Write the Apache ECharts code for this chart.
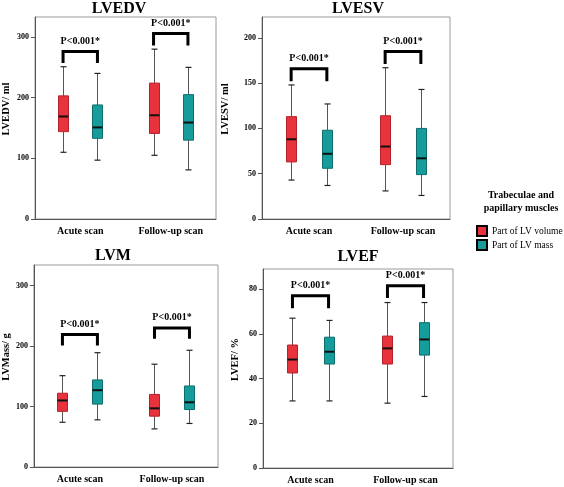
<!DOCTYPE html>
<html>
<head>
<meta charset="utf-8">
<script src="https://cdn.jsdelivr.net/npm/echarts@6/dist/echarts.min.js"></script>
<style>
html,body{margin:0;padding:0;background:#fff;}
#chart{width:564px;height:487px;}
</style>
</head>
<body>
<div id="chart"></div>
<script>
// ---- data (box stats: [min, Q1, median, Q3, max]) ----
const categories = ['Acute scan', 'Follow-up scan'];
const seriesNames = ['Part of LV volume', 'Part of LV mass'];
const panelTitles = ['LVEDV', 'LVESV', 'LVM', 'LVEF'];
const axisNames = ['LVEDV/ ml', 'LVESV/ ml', 'LVMass/ g', 'LVEF/ %'];
const legendTitle = ['Trabeculae and', 'papillary muscles'];
const pText = 'P<0.001*';

const lvedvVolume = [[110, 144, 169, 203, 251], [105, 141, 171, 224, 280]];
const lvedvMass   = [[97, 133, 151, 188, 240], [81, 130, 159, 205, 250]];
const lvedvBrackets = [[276, 257], [306, 286]];   // [top, leg end]
const lvedvTicks = [0, 100, 200, 300];

const lvesvVolume = [[43, 63, 88, 113, 148], [31, 60, 80, 114, 167]];
const lvesvMass   = [[37, 56, 72, 98, 127], [26, 49, 67, 100, 143]];
const lvesvBrackets = [[166, 152], [185, 171]];
const lvesvTicks = [0, 50, 100, 150, 200];

const lvmVolume = [[74, 92, 110, 122, 151], [63, 84, 97, 120, 170]];
const lvmMass   = [[78, 104, 127, 144, 189], [72, 95, 107, 134, 193]];
const lvmBrackets = [[219, 201], [230, 212]];
const lvmTicks = [0, 100, 200, 300];

const lvefVolume = [[30, 42.5, 48.5, 55, 67], [29, 46.5, 53.5, 59, 74]];
const lvefMass   = [[30, 46.5, 52, 58.5, 66], [32, 50.5, 57.5, 65, 74]];
const lvefBrackets = [[77, 71.5], [81.5, 76]];
const lvefTicks = [0, 20, 40, 60, 80];

const yMax = [333, 223, 334, 89];

// ---- layout / style ----
const FONT = 'Liberation Serif';
const RED = '#e8323c', RED_B = '#b3232b';
const TEAL = '#169c9a', TEAL_B = '#0e6e6d';
const grids = [
  {left: 28, top: 17, width: 188, height: 202},
  {left: 262, top: 17, width: 188, height: 202},
  {left: 30, top: 265, width: 188, height: 202},
  {left: 263, top: 269, width: 190, height: 199}
];
const nameGaps = [23, 31, 21, 22];
const OFF = 0.19; // fraction of band width between category center and box center

const panels = [
  {vol: lvedvVolume, mass: lvedvMass, br: lvedvBrackets, ticks: lvedvTicks},
  {vol: lvesvVolume, mass: lvesvMass, br: lvesvBrackets, ticks: lvesvTicks},
  {vol: lvmVolume, mass: lvmMass, br: lvmBrackets, ticks: lvmTicks},
  {vol: lvefVolume, mass: lvefMass, br: lvefBrackets, ticks: lvefTicks}
];

function boxRender(sign, fill, border) {
  return function (params, api) {
    const c = api.value(0);
    const band = api.size([1, 0])[0];
    const pMin = api.coord([c, api.value(1)]);
    const pQ1 = api.coord([c, api.value(2)]);
    const pMed = api.coord([c, api.value(3)]);
    const pQ3 = api.coord([c, api.value(4)]);
    const pMax = api.coord([c, api.value(5)]);
    const cx = Math.round(pMin[0] + sign * OFF * band) + 0.5;
    const hw = 5, cap = 3;
    const ws = {stroke: '#555', lineWidth: 1};
    const cs = {stroke: '#222', lineWidth: 1.2};
    return {type: 'group', children: [
      {type: 'line', shape: {x1: cx, y1: pMax[1], x2: cx, y2: pQ3[1]}, style: ws},
      {type: 'line', shape: {x1: cx, y1: pQ1[1], x2: cx, y2: pMin[1]}, style: ws},
      {type: 'line', shape: {x1: cx - cap, y1: pMax[1], x2: cx + cap, y2: pMax[1]}, style: cs},
      {type: 'line', shape: {x1: cx - cap, y1: pMin[1], x2: cx + cap, y2: pMin[1]}, style: cs},
      {type: 'rect', shape: {x: cx - hw, y: pQ3[1], width: hw * 2, height: pQ1[1] - pQ3[1]},
        style: {fill: fill, stroke: border, lineWidth: 1}},
      {type: 'line', shape: {x1: cx - hw, y1: pMed[1], x2: cx + hw, y2: pMed[1]},
        style: {stroke: '#111', lineWidth: 2}}
    ]};
  };
}

function bracketRender(params, api) {
  const c = api.value(0);
  const band = api.size([1, 0])[0];
  const pTop = api.coord([c, api.value(1)]);
  const pLeg = api.coord([c, api.value(2)]);
  const x1 = pTop[0] - OFF * band, x2 = pTop[0] + OFF * band;
  return {type: 'group', children: [
    {type: 'polyline', shape: {points: [[x1, pLeg[1]], [x1, pTop[1]], [x2, pTop[1]], [x2, pLeg[1]]]},
      style: {stroke: '#000', lineWidth: 3, fill: null, lineJoin: 'miter'}},
    {type: 'text', x: pTop[0], y: pTop[1] - 5,
      style: {text: pText, textAlign: 'center', textVerticalAlign: 'bottom',
        font: 'bold 10px "' + FONT + '"', fill: '#000'}}
  ]};
}

const xAxes = [], yAxes = [], series = [], graphics = [];
panels.forEach(function (p, i) {
  xAxes.push({
    type: 'category', gridIndex: i, data: categories, boundaryGap: true,
    axisLine: {lineStyle: {color: '#555', width: 1}},
    axisTick: {alignWithLabel: true, length: 4, lineStyle: {color: '#555'}},
    axisLabel: {color: '#000', fontFamily: FONT, fontWeight: 'bold', fontSize: 10, margin: 7},
    splitLine: {show: false}
  });
  yAxes.push({
    type: 'value', gridIndex: i, min: 0, max: yMax[i],
    name: axisNames[i], nameLocation: 'middle', nameGap: nameGaps[i],
    nameTextStyle: {color: '#000', fontFamily: FONT, fontWeight: 'bold', fontSize: 10.5, padding: [0, 0, 0, 18]},
    axisLine: {show: true, lineStyle: {color: '#555', width: 1}},
    axisTick: {show: true, length: 4, lineStyle: {color: '#555'}, customValues: p.ticks},
    axisLabel: {color: '#000', fontFamily: FONT, fontWeight: 'bold', fontSize: 8, margin: 6, customValues: p.ticks},
    splitLine: {show: false}
  });
  series.push({
    type: 'custom', name: seriesNames[0], xAxisIndex: i, yAxisIndex: i,
    itemStyle: {color: RED, borderColor: '#000', borderWidth: 1},
    renderItem: boxRender(-1, RED, RED_B),
    encode: {x: 0, y: [1, 2, 3, 4, 5]},
    data: p.vol.map(function (s, k) { return [k].concat(s); }),
    silent: true
  });
  series.push({
    type: 'custom', name: seriesNames[1], xAxisIndex: i, yAxisIndex: i,
    itemStyle: {color: TEAL, borderColor: '#000', borderWidth: 1},
    renderItem: boxRender(1, TEAL, TEAL_B),
    encode: {x: 0, y: [1, 2, 3, 4, 5]},
    data: p.mass.map(function (s, k) { return [k].concat(s); }),
    silent: true
  });
  series.push({
    type: 'custom', name: 'bracket', xAxisIndex: i, yAxisIndex: i,
    renderItem: bracketRender,
    encode: {x: 0, y: [1, 2]},
    data: p.br.map(function (b, k) { return [k].concat(b); }),
    silent: true, z: 5
  });
});

const titlePos = [[119, 9], [358, 9], [113, 256], [358, 257]];
panelTitles.forEach(function (t, i) {
  graphics.push({type: 'text', x: titlePos[i][0], y: titlePos[i][1],
    style: {text: t, textAlign: 'center', textVerticalAlign: 'middle',
      font: 'bold 16px "' + FONT + '"', fill: '#000'}});
});
graphics.push({type: 'text', x: 521, y: 195,
  style: {text: legendTitle[0], textAlign: 'center', textVerticalAlign: 'middle',
    font: 'bold 10px "' + FONT + '"', fill: '#000'}});
graphics.push({type: 'text', x: 521, y: 208,
  style: {text: legendTitle[1], textAlign: 'center', textVerticalAlign: 'middle',
    font: 'bold 10px "' + FONT + '"', fill: '#000'}});

const option = {
  backgroundColor: '#fff',
  animation: false,
  grid: grids.map(function (g) {
    return Object.assign({show: true, borderColor: '#9a9a9a', borderWidth: 1, backgroundColor: 'transparent'}, g);
  }),
  xAxis: xAxes,
  yAxis: yAxes,
  legend: {
    data: seriesNames, orient: 'vertical', left: 471, top: 220, padding: 5,
    itemWidth: 10, itemHeight: 10, itemGap: 2, icon: 'rect', selectedMode: false,
    textStyle: {color: '#000', fontFamily: FONT, fontSize: 9.5}
  },
  graphic: graphics,
  series: series
};

const chart = echarts.init(document.getElementById('chart'), null, {renderer: 'canvas'});
chart.setOption(option);
</script>
</body>
</html>
